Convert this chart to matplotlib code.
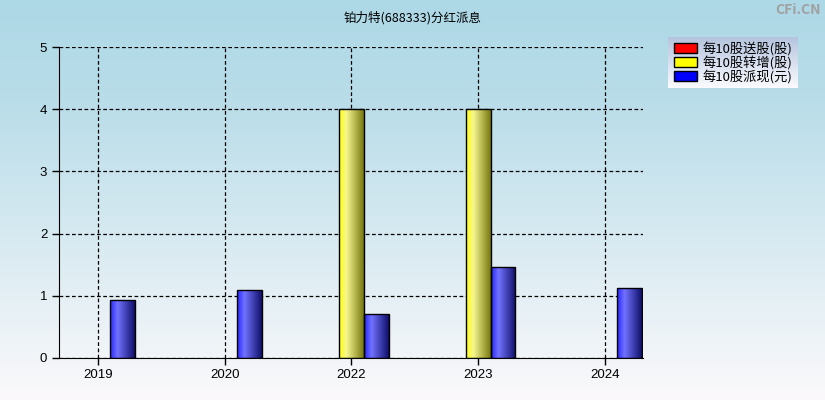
import numpy as np
import matplotlib.pyplot as plt
from matplotlib.colors import LinearSegmentedColormap
from matplotlib.patches import Patch

plt.rcParams['font.family'] = ['Noto Sans CJK SC', 'DejaVu Sans']

years = ['2019', '2020', '2022', '2023', '2024']
song = [0, 0, 0, 0, 0]          # 每10股送股(股)
zhuan = [0, 0, 4, 4, 0]         # 每10股转增(股)
pai = [0.93, 1.1, 0.71, 1.46, 1.13]  # 每10股派现(元)

fig = plt.figure(figsize=(8.25, 4), dpi=100)

# background gradient
bg = fig.add_axes([0, 0, 1, 1])
grad = np.linspace(0, 1, 256).reshape(-1, 1)
bg_cmap = LinearSegmentedColormap.from_list('bg', [(0, '#add8e6'), (0.25, '#b9dde9'), (1, '#fbf9fb')])
bg.imshow(grad, aspect='auto', cmap=bg_cmap, extent=[0, 1, 0, 1])
bg.set_axis_off()

ax = fig.add_axes([59 / 825, 42 / 400, 584 / 825, 311 / 400])
ax.patch.set_alpha(0)

x = np.arange(len(years))
w = 0.197

cmaps = {
    'red': LinearSegmentedColormap.from_list('r', [(0, '#ff1010'), (0.3, '#ff7070'), (1, '#701010')]),
    'yellow': LinearSegmentedColormap.from_list('y', [(0, '#ffff10'), (0.3, '#f6f690'), (1, '#787810')]),
    'blue': LinearSegmentedColormap.from_list('b', [(0, '#2828ff'), (0.3, '#7272ff'), (1, '#10106a')]),
}
hgrad = np.linspace(0, 1, 64).reshape(1, -1)

def draw_bars(pos, vals, name):
    bars = ax.bar(pos, vals, w, color='none', edgecolor='black', linewidth=1, zorder=3)
    for b, v in zip(bars, vals):
        if v <= 0:
            b.set_visible(False)
            continue
        x0, y0 = b.get_x(), b.get_y()
        im = ax.imshow(hgrad, aspect='auto', cmap=cmaps[name],
                       extent=[x0, x0 + b.get_width(), y0, y0 + b.get_height()], zorder=2)
        im.set_clip_path(b)

draw_bars(x - w, song, 'red')
draw_bars(x, zhuan, 'yellow')
draw_bars(x + w, pai, 'blue')

ax.set_xlim(-0.307, 4 + 0.302)
ax.set_ylim(0, 5)
ax.set_xticks(x)
ax.set_xticklabels(years)
ax.set_yticks(range(6))
ax.grid(True, color='black', linestyle=(0, (3, 2)), linewidth=0.9)
ax.set_axisbelow(True)
for s in ['top', 'right']:
    ax.spines[s].set_visible(False)
ax.tick_params(axis='both', labelsize=9.5, length=5, width=1)
ax.tick_params(axis='x', pad=3)
for lab in ax.get_xticklabels() + ax.get_yticklabels():
    lab.set_family(['Liberation Sans', 'DejaVu Sans'])

fig.text(0.5, 0.955, '铂力特(688333)分红派息', ha='center', va='center', fontsize=9)
fig.text(0.995, 0.975, 'CFi.CN', ha='right', va='center', fontsize=10, color='#a0a0a0', fontweight='bold')

# legend box with gradient
lax = fig.add_axes([668 / 825, 1 - 88 / 400, 130 / 825, 51 / 400])
lg_cmap = LinearSegmentedColormap.from_list('lg', ['#b4c4de', '#fbfbff'])
lax.imshow(grad, aspect='auto', cmap=lg_cmap, extent=[0, 1, 0, 1])
lax.set_axis_off()
handles = [Patch(facecolor='red', edgecolor='black'),
           Patch(facecolor='yellow', edgecolor='black'),
           Patch(facecolor='blue', edgecolor='black')]
labels = ['每10股送股(股)', '每10股转增(股)', '每10股派现(元)']
lax.legend(handles, labels, loc='center', frameon=False, fontsize=9.5,
           handlelength=1.8, handleheight=0.8, handletextpad=0.4,
           labelspacing=0.0, borderpad=0.1)

fig.savefig('out.png', dpi=100)
